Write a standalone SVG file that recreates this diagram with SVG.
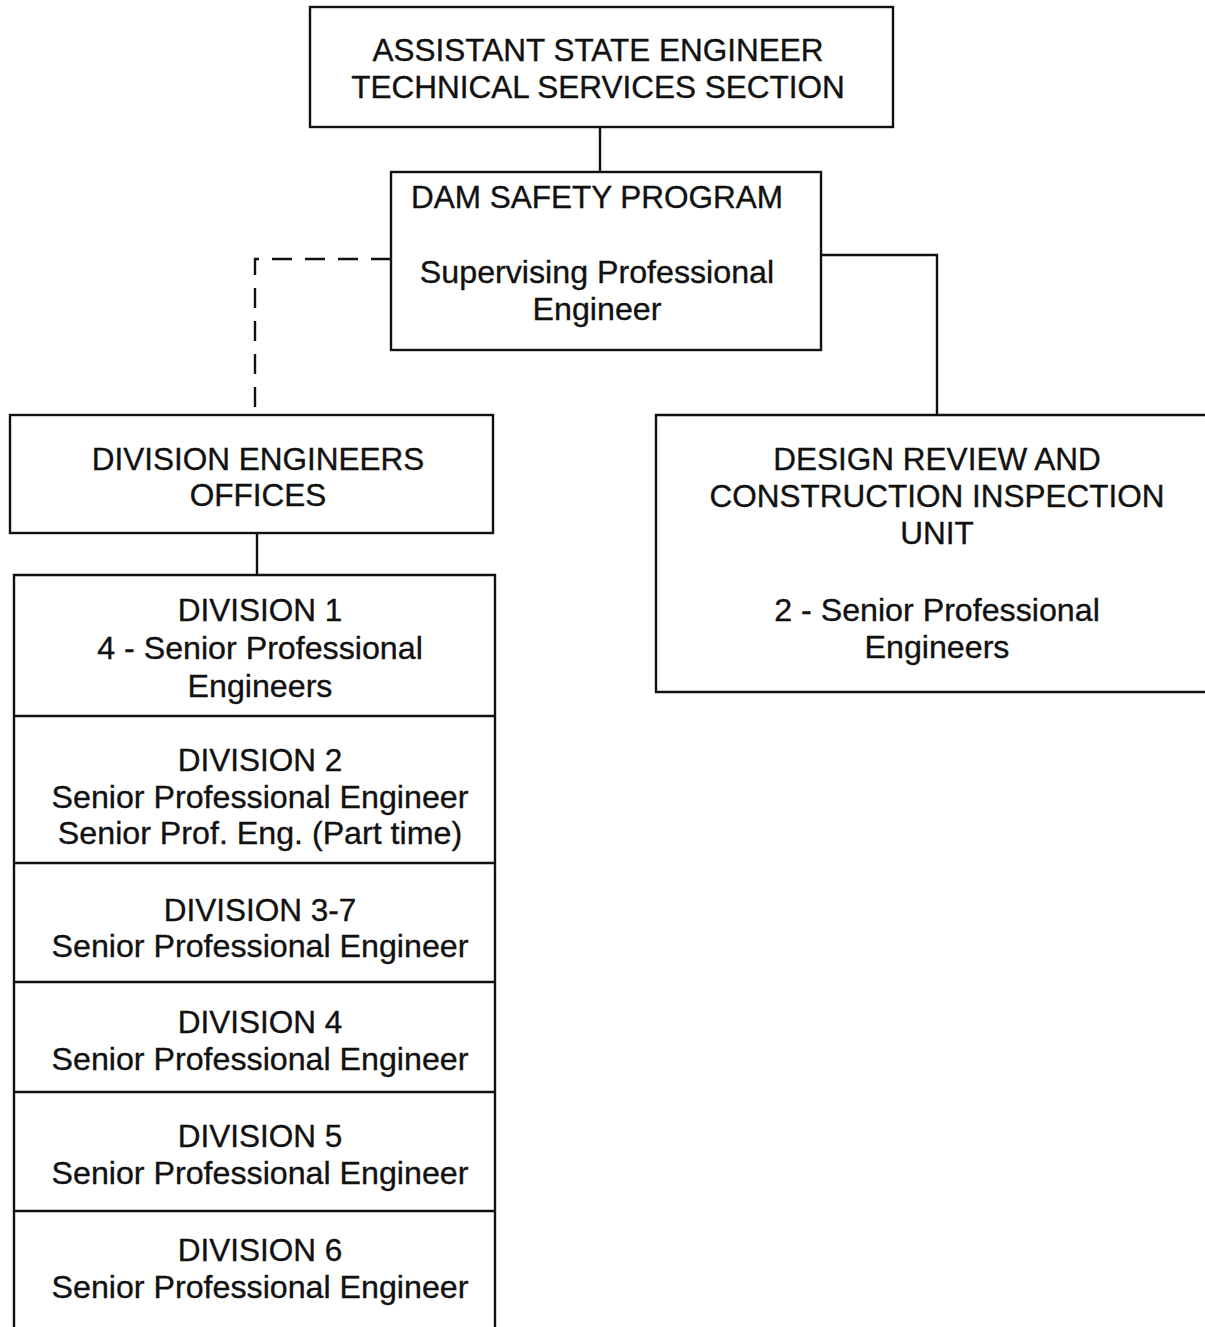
<svg xmlns="http://www.w3.org/2000/svg" width="1205" height="1327" viewBox="0 0 1205 1327">
  <style>
    .box { fill: none; stroke: #111; stroke-width: 2.4; }
    .rule { stroke: #111; stroke-width: 2.4; }
    .link { fill: none; stroke: #111; stroke-width: 2.4; }
    .dash { fill: none; stroke: #111; stroke-width: 2.4; stroke-dasharray: 20 13; }
    text { font-family: "Liberation Sans", Arial, Helvetica, sans-serif; font-size: 31.5px; fill: #111; stroke: #111; stroke-width: 0.35; text-anchor: middle; }
    text.mixed { font-size: 32.2px; }
  </style>
  <rect width="1205" height="1327" fill="#fff"/>

  <!-- connectors -->
  <g id="connectors">
    <line class="link" x1="600" y1="127" x2="600" y2="172"/>
    <polyline class="dash" points="391,259 255,259 255,415"/>
    <polyline class="link" points="821,255 937,255 937,415"/>
    <line class="link" x1="257" y1="533" x2="257" y2="575"/>
  </g>

  <g id="assistant-state-engineer">
    <rect class="box" x="310" y="7" width="583" height="120"/>
    <text x="598" y="61">ASSISTANT STATE ENGINEER</text>
    <text x="598" y="98">TECHNICAL SERVICES SECTION</text>
  </g>

  <g id="dam-safety-program">
    <rect class="box" x="391" y="172" width="430" height="178"/>
    <text x="597" y="208">DAM SAFETY PROGRAM</text>
    <text class="mixed" x="597" y="283">Supervising Professional</text>
    <text class="mixed" x="597" y="320">Engineer</text>
  </g>

  <g id="division-engineers-offices">
    <rect class="box" x="10" y="415" width="483" height="118"/>
    <text x="258" y="470">DIVISION ENGINEERS</text>
    <text x="258" y="506">OFFICES</text>
  </g>

  <g id="design-review-unit">
    <polyline class="box" points="1205,415 656,415 656,692 1205,692"/>
    <text x="937" y="470">DESIGN REVIEW AND</text>
    <text x="937" y="507">CONSTRUCTION INSPECTION</text>
    <text x="937" y="544">UNIT</text>
    <text class="mixed" x="937" y="621">2 - Senior Professional</text>
    <text class="mixed" x="937" y="658">Engineers</text>
  </g>

  <g id="divisions">
    <polyline class="box" points="14,1327 14,575 495,575 495,1327"/>
    <line class="rule" x1="14" y1="716" x2="495" y2="716"/>
    <line class="rule" x1="14" y1="863" x2="495" y2="863"/>
    <line class="rule" x1="14" y1="982" x2="495" y2="982"/>
    <line class="rule" x1="14" y1="1092" x2="495" y2="1092"/>
    <line class="rule" x1="14" y1="1211" x2="495" y2="1211"/>

    <g id="division-1">
      <text x="260" y="621">DIVISION 1</text>
      <text class="mixed" x="260" y="659">4 - Senior Professional</text>
      <text class="mixed" x="260" y="697">Engineers</text>
    </g>
    <g id="division-2">
      <text x="260" y="771">DIVISION 2</text>
      <text class="mixed" x="260" y="808">Senior Professional Engineer</text>
      <text class="mixed" x="260" y="844">Senior Prof. Eng. (Part time)</text>
    </g>
    <g id="division-3-7">
      <text x="260" y="921">DIVISION 3-7</text>
      <text class="mixed" x="260" y="957">Senior Professional Engineer</text>
    </g>
    <g id="division-4">
      <text x="260" y="1033">DIVISION 4</text>
      <text class="mixed" x="260" y="1070">Senior Professional Engineer</text>
    </g>
    <g id="division-5">
      <text x="260" y="1147">DIVISION 5</text>
      <text class="mixed" x="260" y="1184">Senior Professional Engineer</text>
    </g>
    <g id="division-6">
      <text x="260" y="1261">DIVISION 6</text>
      <text class="mixed" x="260" y="1298">Senior Professional Engineer</text>
    </g>
  </g>
</svg>
